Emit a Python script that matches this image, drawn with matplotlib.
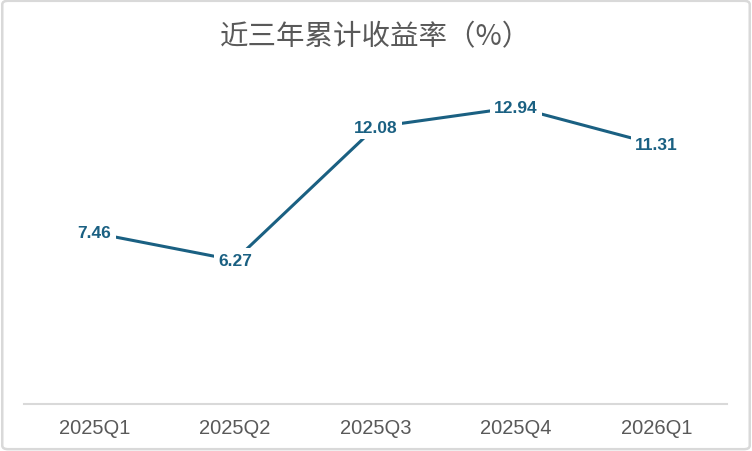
import matplotlib
matplotlib.use("Agg")
import matplotlib.pyplot as plt
from matplotlib.patches import FancyBboxPatch

categories = ["2025Q1", "2025Q2", "2025Q3", "2025Q4", "2026Q1"]
values = [7.46, 6.27, 12.08, 12.94, 11.31]
title = "近三年累计收益率（%）"

line_color = "#1a6082"

plt.rcParams['font.family'] = ['Liberation Sans', 'Noto Sans CJK SC', 'DejaVu Sans']

fig = plt.figure(figsize=(7.52, 4.52), dpi=100)
ax = fig.add_axes([24/752, 1-405/452, 703/752, (405-84)/452])

x = list(range(len(categories)))
ax.plot(x, values, color=line_color, linewidth=2.2, solid_capstyle='butt', zorder=2)
for xi, v in zip(x, values):
    ax.text(xi, v, f"{v:.2f}", ha='center', va='center', fontsize=12.5, fontweight='bold',
            color=line_color, zorder=3,
            bbox=dict(boxstyle='square,pad=0.25', facecolor='white', edgecolor='none'))

ax.set_xlim(-0.5, len(categories) - 0.5)
ax.set_ylim(0, 14)
ax.set_xticks(x)
ax.set_xticklabels(categories, fontsize=14.5, color='#595959',
                   family=['Liberation Sans Narrow', 'Liberation Sans', 'DejaVu Sans'])
ax.tick_params(axis='x', length=0, pad=10)
ax.set_yticks([])
for s in ['top', 'right', 'left']:
    ax.spines[s].set_visible(False)
ax.spines['bottom'].set_color('#d9d9d9')
ax.spines['bottom'].set_linewidth(1.5)

fig.text(0.5, 1-37/452, title, ha='center', va='center', fontsize=20.5, color='#595959',
         fontweight='light', family=['Noto Sans CJK SC', 'DejaVu Sans'])

border = FancyBboxPatch((0.003, 0.004), 0.994, 0.992, boxstyle='round,pad=0,rounding_size=0.008',
                        transform=fig.transFigure, facecolor='none', edgecolor='#d9d9d9',
                        linewidth=1.8, zorder=10)
fig.patches.append(border)

fig.savefig("out.png", dpi=100)
